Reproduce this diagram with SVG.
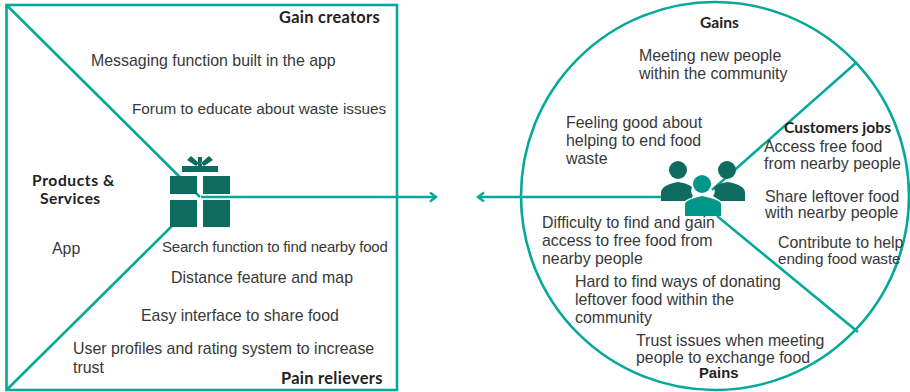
<svg xmlns="http://www.w3.org/2000/svg" width="910" height="392" viewBox="0 0 910 392">
<style>
text{font-family:"Liberation Sans",Arial,sans-serif;font-size:15.9px;fill:#383838}
.b{font-family:Lato,"Liberation Sans",sans-serif;font-weight:700;font-size:15.6px;fill:#222}
.w{font-size:16.4px;letter-spacing:.3px}
.p{font-family:"Liberation Sans",Arial,sans-serif;font-weight:700;font-size:14.8px;fill:#222}
.l{fill:none;stroke:#06a899;stroke-width:2.6}
.d{fill:#0e6b60}
.t{fill:#00968a}
</style>
<defs><marker id="a" markerWidth="10" markerHeight="12" refX="8" refY="5" orient="auto" markerUnits="userSpaceOnUse"><path d="M2 0.5L8 5L2 9.5" fill="none" stroke="#06a899" stroke-width="2.4"/></marker></defs>
<rect width="910" height="392" fill="#fff"/>
<g id="connectors">
<rect class="l" x="6.5" y="5" width="390.5" height="385"/>
<circle class="l" cx="715" cy="196" r="194"/>
<path class="l" d="M6.5 5L200 197M6.5 390L172 226"/>
<path class="l" d="M201 197H436" marker-end="url(#a)"/>
<path class="l" d="M692 197H478" marker-end="url(#a)"/>
<path class="l" d="M857 62L712 190M717 216L858 332"/>
</g>
<g id="gift">
<path class="d" d="M198 157h4v9h-4zM187 160l4-4 8 7-3 3zM213 160l-4-4-8 7 3 3zM182 166h36v6h-36z"/>
<rect class="d" x="170" y="176" width="27" height="18"/><rect class="d" x="203" y="176" width="27" height="18"/>
<rect class="d" x="170" y="200" width="27" height="27"/><rect class="d" x="203" y="200" width="27" height="27"/>
</g>
<g id="people">
<circle class="d" cx="678" cy="170" r="9"/><circle class="d" cx="727" cy="170" r="9"/>
<path class="d" d="M661 201v-9q1-7 17-10q9 1 14 5q-2 6 1 9l-8 5zM745 201v-9q-1-7-17-10q-9 1-14 5q2 6-1 9l8 5z"/>
<circle class="t" cx="702" cy="184" r="9"/>
<path class="t" d="M685 216v-12q0-4 17-8q19 4 19 8v12z"/>
</g>
<g id="gain-creators">
<text class="b w" x="279" y="23">Gain creators</text>
<text x="91" y="66">Messaging function built in the app</text>
<text x="132" y="114" style="font-size:15.3px">Forum to educate about waste issues</text>
</g>
<g id="products">
<text class="b" x="32" y="186" style="letter-spacing:.6px">Products &amp;</text>
<text class="b" x="40" y="204" style="letter-spacing:.4px">Services</text>
<text x="52" y="254">App</text>
</g>
<g id="pain-relievers">
<text x="162" y="252" style="font-size:15px;letter-spacing:-.2px">Search function to find nearby food</text>
<text x="171" y="283">Distance feature and map</text>
<text x="141" y="321">Easy interface to share food</text>
<text x="73" y="354">User profiles and rating system to increase</text>
<text x="73" y="373">trust</text>
<text class="b w" x="281" y="384">Pain relievers</text>
</g>
<g id="gains">
<text class="b" x="700" y="28">Gains</text>
<text x="639" y="61">Meeting new people</text>
<text x="639" y="79">within the community</text>
<text x="566" y="128">Feeling good about</text>
<text x="566" y="146">helping to end food</text>
<text x="566" y="164">waste</text>
</g>
<g id="jobs">
<text class="b" x="784" y="133">Customers jobs</text>
<text x="764" y="152">Access free food</text>
<text x="764" y="169">from nearby people</text>
<text x="765" y="202">Share leftover food</text>
<text x="765" y="218">with nearby people</text>
<text x="778" y="248">Contribute to help</text>
<text x="778" y="264" style="font-size:15.3px;letter-spacing:-.1px">ending food waste</text>
</g>
<g id="pains">
<text x="542" y="228">Difficulty to find and gain</text>
<text x="542" y="246">access to free food from</text>
<text x="542" y="264">nearby people</text>
<text x="575" y="287">Hard to find ways of donating</text>
<text x="575" y="305">leftover food within the</text>
<text x="575" y="323">community</text>
<text x="636" y="346">Trust issues when meeting</text>
<text x="636" y="363">people to exchange food</text>
<text class="p" x="699" y="378">Pains</text>
</g>
</svg>
